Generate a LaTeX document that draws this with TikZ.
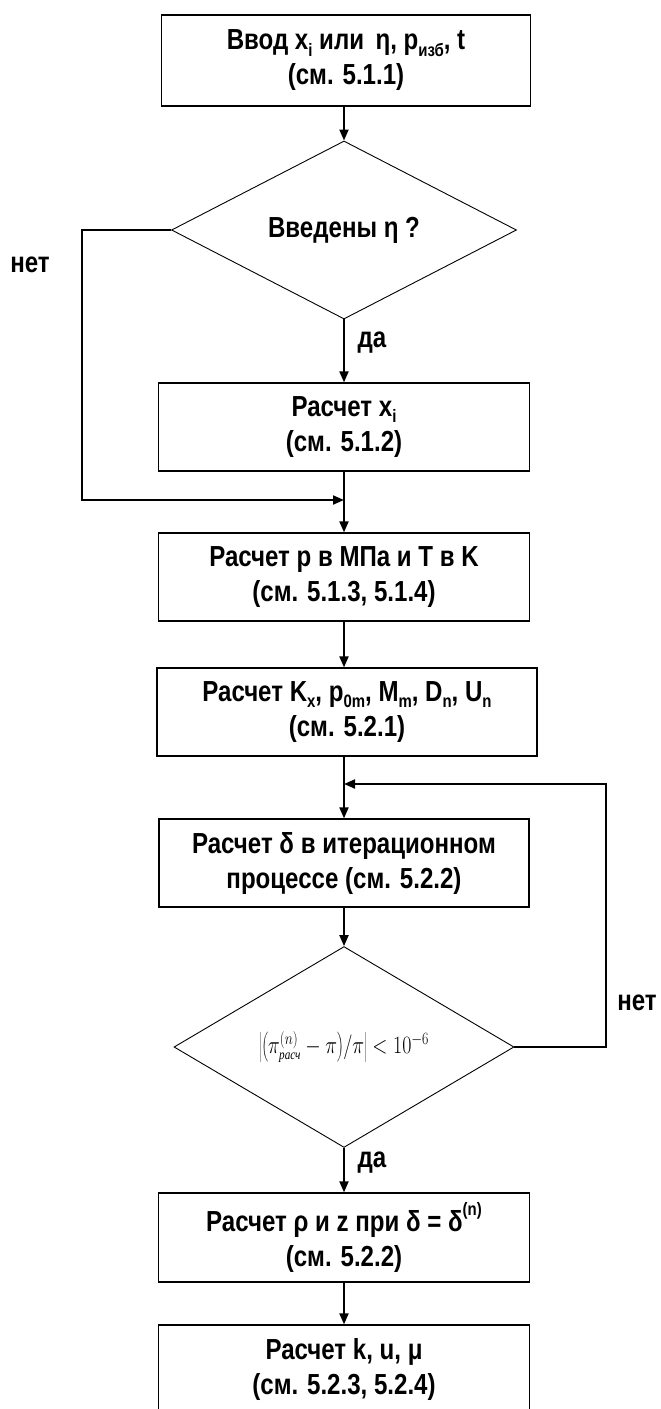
\documentclass[tikz,border=0pt]{standalone}
\usepackage{fontspec}
\setmainfont{Liberation Sans}[FakeStretch=0.83]
\newfontfamily\serifcyr{Liberation Serif}
\usetikzlibrary{shapes.geometric,arrows.meta}
\newcommand{\mysub}[1]{\raisebox{-0.22em}{\fontsize{18}{18}\selectfont #1}}
\newcommand{\mysup}[1]{\raisebox{0.55em}{\fontsize{18}{18}\selectfont #1}}
\begin{document}
\begin{tikzpicture}[x=1pt,y=-1pt,
  txt/.style={font=\bfseries\fontsize{29}{35}\selectfont},
  box/.style={txt, draw, line width=1.3pt, minimum height=88pt, inner sep=0pt, align=center},
  dec/.style={txt, draw, diamond, line width=0.9pt, inner sep=0pt, align=center},
  arr/.style={line width=2pt, -{Triangle[length=11pt,width=9pt]}},
  lbl/.style={txt, inner sep=0pt}
]
\useasboundingbox (0,0) rectangle (661,1409);

\node[box, minimum width=369pt, minimum height=91pt] (b1) at (346,60.5) {Ввод x\mysub{i} или \,η, p\mysub{изб}, t\\(см. 5.1.1)};
\node[dec, minimum width=345pt, minimum height=168pt] (d1) at (344,230) {Введены η ?};
\node[box, minimum width=371pt] (b2) at (344,427) {Расчет x\mysub{i}\\(см. 5.1.2)};
\node[box, minimum width=371pt] (b3) at (344,577) {Расчет p в МПа и T в K\\(см. 5.1.3, 5.1.4)};
\node[box, minimum width=380pt] (b4) at (347,712) {Расчет K\mysub{x}, p\mysub{0m}, M\mysub{m}, D\mysub{n}, U\mysub{n}\\(см. 5.2.1)};
\node[box, minimum width=370pt] (b5) at (344,863) {Расчет δ в итерационном\\процессе (см. 5.2.2)};
\node[dec, minimum width=340pt, minimum height=170pt, font=\fontsize{23}{26}\selectfont] (d2) at (344,1047)
  {\scalebox{0.8}[1]{$\left|\left(\pi^{(n)}_{\hbox{\serifcyr\itshape\fontsize{14}{14}\selectfont расч}}-\pi\right)\!\big/\pi\right| < 10^{-6}$}};
\node[box, minimum width=371pt, minimum height=89pt] (b6) at (344,1237.5) {Расчет ρ и z при δ = δ\mysup{(n)}\\(см. 5.2.2)};
\node[box, minimum width=371pt] (b7) at (344,1369) {Расчет k, u, μ\\(см. 5.2.3, 5.2.4)};

\coordinate (nl) at (82,230);
\coordinate (j1) at (344,500);
\coordinate (nr) at (606,1047);
\coordinate (j2) at (344,784);

\draw[arr] (b1.south -| d1.north) -- (d1.north);
\draw[arr] (d1.south) -- (b2.north);
\draw[arr] (b2.south) -- (b3.north);
\draw[arr] (d1.west) -- (nl) |- (j1);
\draw[arr] (b3.south) -- (b3.south |- b4.north);
\draw[arr] (b5.north |- b4.south) -- (b5.north);
\draw[arr] (d2.east) -- (nr) |- (j2);
\draw[arr] (b5.south) -- (d2.north);
\draw[arr] (d2.south) -- (b6.north);
\draw[arr] (b6.south) -- (b7.north);

\node[lbl] (n1) at (30,265) {нет};
\node[lbl] (y1) at (372,343) {да};
\node[lbl] (y2) at (372,1163) {да};
\node[lbl] (n2) at (637,1003) {нет};
\end{tikzpicture}
\end{document}
